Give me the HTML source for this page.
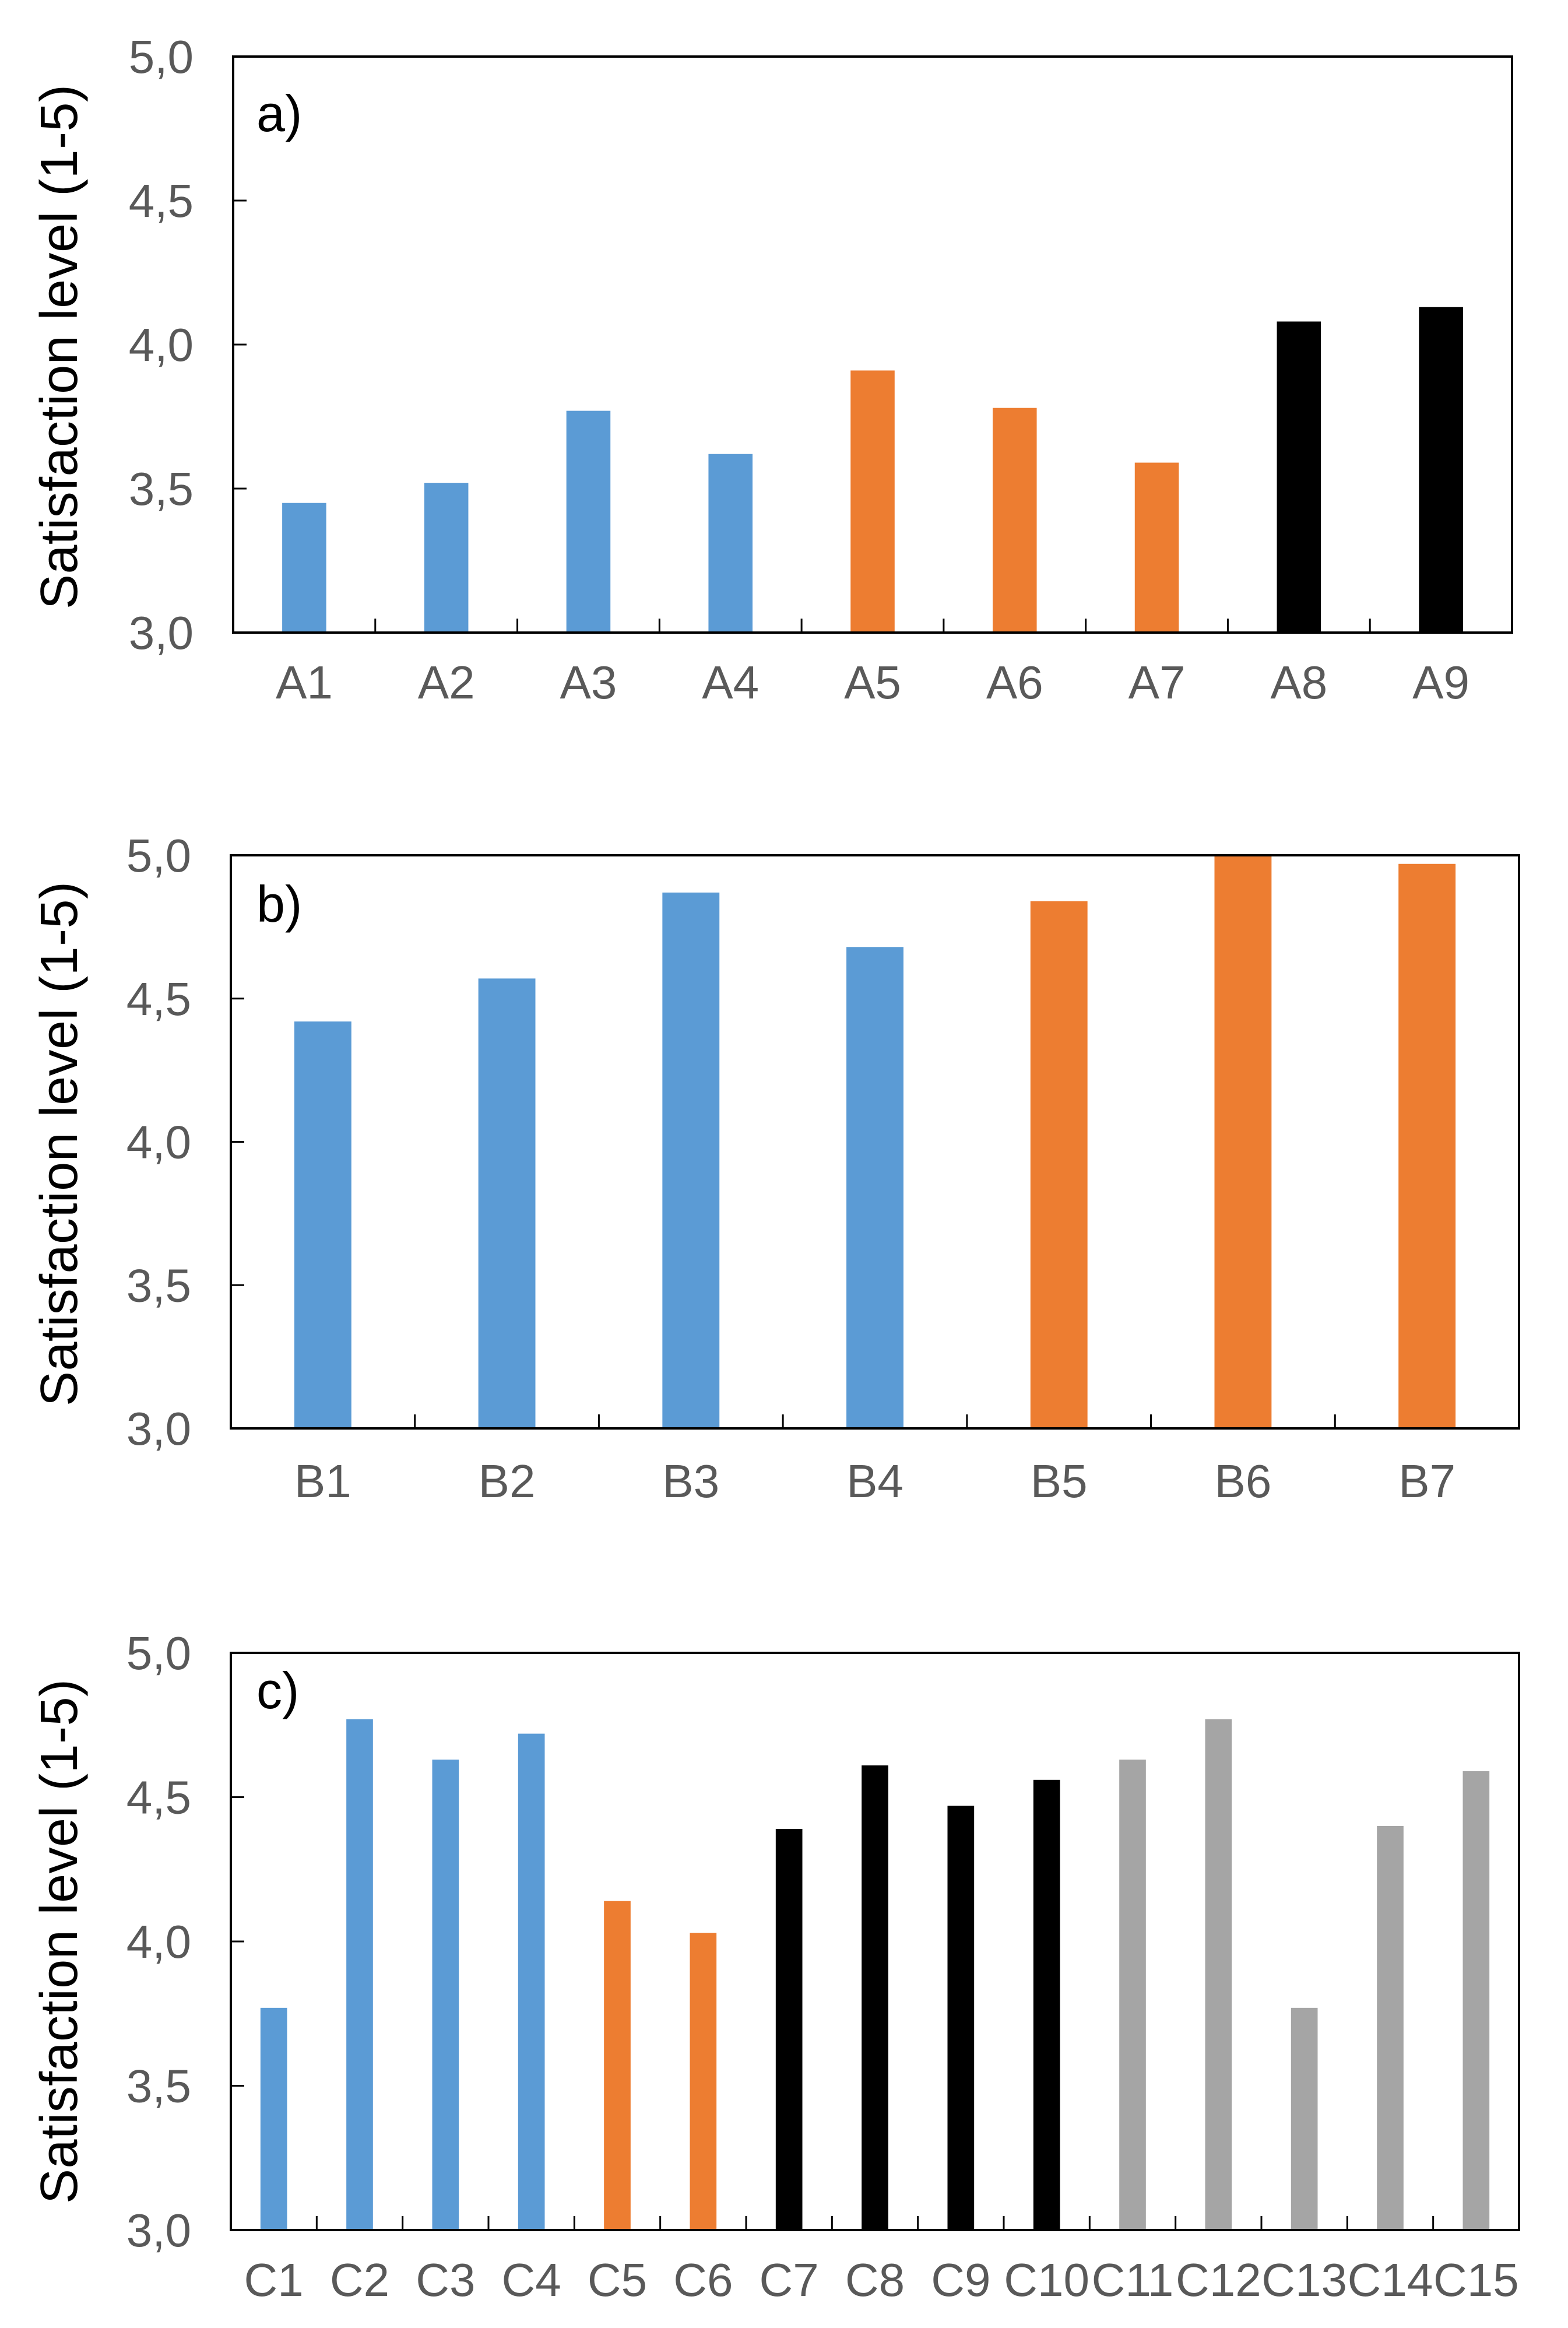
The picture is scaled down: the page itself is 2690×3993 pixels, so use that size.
<!DOCTYPE html>
<html><head><meta charset="utf-8"><style>
html,body{margin:0;padding:0;background:#fff;}
svg{display:block;}
text{font-family:"Liberation Sans",sans-serif;}
</style></head><body>
<svg id="chart" width="2690" height="3993" viewBox="0 0 2690 3993" xmlns="http://www.w3.org/2000/svg"></svg>
<script>
const catsA = ["A1","A2","A3","A4","A5","A6","A7","A8","A9"];
const valsA = [3.45,3.52,3.77,3.62,3.91,3.78,3.59,4.08,4.13];
const colsA = ["#5B9BD5","#5B9BD5","#5B9BD5","#5B9BD5","#ED7D31","#ED7D31","#ED7D31","#000000","#000000"];
const catsB = ["B1","B2","B3","B4","B5","B6","B7"];
const valsB = [4.42,4.57,4.87,4.68,4.84,5.0,4.97];
const colsB = ["#5B9BD5","#5B9BD5","#5B9BD5","#5B9BD5","#ED7D31","#ED7D31","#ED7D31"];
const catsC = ["C1","C2","C3","C4","C5","C6","C7","C8","C9","C10","C11","C12","C13","C14","C15"];
const valsC = [3.77,4.77,4.63,4.72,4.14,4.03,4.39,4.61,4.47,4.56,4.63,4.77,3.77,4.40,4.59];
const colsC = ["#5B9BD5","#5B9BD5","#5B9BD5","#5B9BD5","#ED7D31","#ED7D31","#000000","#000000","#000000","#000000","#A5A5A5","#A5A5A5","#A5A5A5","#A5A5A5","#A5A5A5"];
const yTicks = [3.0,3.5,4.0,4.5,5.0];
const yTickLabels = ["3,0","3,5","4,0","4,5","5,0"];
const panelLetters = ["a)","b)","c)"];

const NS = "http://www.w3.org/2000/svg";
const svg = document.getElementById("chart");
function mk(tag, attrs, parent){
  const e = document.createElementNS(NS, tag);
  for (const k in attrs) e.setAttribute(k, attrs[k]);
  (parent||svg).appendChild(e);
  return e;
}

const panels = [
  {id:"a", L:400, R:2594, T:97, B:1085, cats:catsA, vals:valsA, cols:colsA, letterY:225, labY:1198, titleY:595},
  {id:"b", L:396, R:2606, T:1467, B:2450, cats:catsB, vals:valsB, cols:colsB, letterY:1581, labY:2568, titleY:1962},
  {id:"c", L:396, R:2606, T:2835, B:3825, cats:catsC, vals:valsC, cols:colsC, letterY:2930, labY:3938, titleY:3330}
];

panels.forEach((p, pi) => {
  const g = mk("g", {});
  
  
  const yScale = v => p.B - (v - 3.0) / 2.0 * (p.B - p.T);
  const cw = (p.R - p.L) / p.cats.length;
  const xScale = i => p.L + cw * (i + 0.5);
  const bw = cw * 0.31;

  p.vals.forEach((v, i) => {
    const r = mk("rect", {x: xScale(i) - bw/2, y: yScale(v), width: bw, height: p.B - yScale(v), fill: p.cols[i]}, g);
    
    
  });

  const fr = mk("rect", {x: p.L, y: p.T, width: p.R - p.L, height: p.B - p.T, fill: "none", stroke: "#000", "stroke-width": 4}, g);
  
  

  yTicks.forEach((t, i) => {
    const y = yScale(t);
    if (i > 0 && i < yTicks.length - 1) {
      const tk = mk("line", {x1: p.L, x2: p.L + 23, y1: y, y2: y, stroke: "#000", "stroke-width": 3}, g);
      
      
    }
    const tl = mk("text", {x: p.L - 68, y: y + 28, "font-size": 80, fill: "#595959", "text-anchor": "end"}, g);
    tl.textContent = yTickLabels[i];
    
    
  });

  for (let i = 1; i < p.cats.length; i++) {
    const x = p.L + cw * i;
    const tk = mk("line", {x1: x, x2: x, y1: p.B, y2: p.B - 24, stroke: "#000", "stroke-width": 3}, g);
    
    
  }
  p.cats.forEach((c, i) => {
    const tl = mk("text", {x: xScale(i), y: p.labY, "font-size": 80, fill: "#595959", "text-anchor": "middle"}, g);
    tl.textContent = c;
    
    
  });

  const lt = mk("text", {x: 440, y: p.letterY, "font-size": 88, fill: "#000"}, g);
  lt.textContent = panelLetters[pi];
  
  

  const yt = mk("text", {x: 0, y: 0, "font-size": 90, fill: "#000", "text-anchor": "middle",
    textLength: 900, lengthAdjust: "spacing",
    transform: "translate(132," + p.titleY + ") rotate(-90)"}, g);
  yt.textContent = "Satisfaction level (1-5)";
  
  
});
</script>
</body></html>
